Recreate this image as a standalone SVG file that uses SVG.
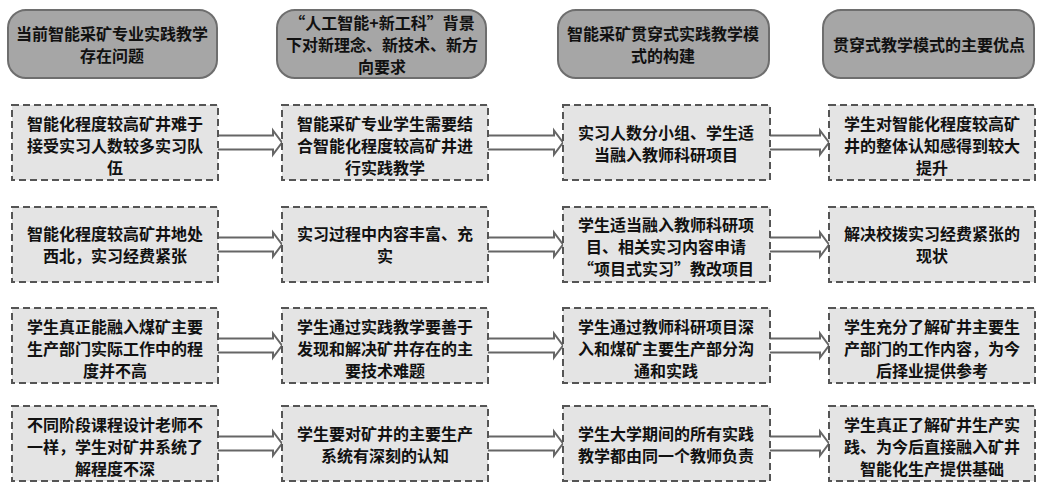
<svg xmlns="http://www.w3.org/2000/svg" width="1054" height="484" viewBox="0 0 1054 484">
<style>
.hd{fill:#a6a6a6;stroke:#6e6e6e;stroke-width:2}
.bx{fill:#e4e4e4;stroke:#555;stroke-width:2;stroke-dasharray:7 4}
.t{font-family:"Noto Sans CJK SC","Noto Sans",sans-serif;font-weight:bold;font-size:16px;fill:#111;text-anchor:middle;dominant-baseline:central}
.ar{fill:#fff;stroke:#666;stroke-width:2;stroke-linejoin:miter}
</style>
<rect width="1054" height="484" fill="#fff"/>
<g id="connectors">
<path class="ar" d="M218,135.5H273V130.5L282,142.5L273,154.5V149.5H218"/>
<path class="ar" d="M488,135.5H554V130.5L563,142.5L554,154.5V149.5H488"/>
<path class="ar" d="M770,135.5H820V130.5L829,142.5L820,154.5V149.5H770"/>
<path class="ar" d="M218,237.5H273V232.5L282,244.5L273,256.5V251.5H218"/>
<path class="ar" d="M488,237.5H554V232.5L563,244.5L554,256.5V251.5H488"/>
<path class="ar" d="M770,237.5H820V232.5L829,244.5L820,256.5V251.5H770"/>
<path class="ar" d="M218,338.5H273V333.5L282,345.5L273,357.5V352.5H218"/>
<path class="ar" d="M488,338.5H554V333.5L563,345.5L554,357.5V352.5H488"/>
<path class="ar" d="M770,338.5H820V333.5L829,345.5L820,357.5V352.5H770"/>
<path class="ar" d="M218,436.5H273V431.5L282,443.5L273,455.5V450.5H218"/>
<path class="ar" d="M488,436.5H554V431.5L563,443.5L554,455.5V450.5H488"/>
<path class="ar" d="M770,436.5H820V431.5L829,443.5L820,455.5V450.5H770"/>
</g>
<g id="h1"><rect class="hd" x="8" y="10" width="209" height="68" rx="18"/><text class="t" x="112" y="33">当前智能采矿专业实践教学</text><text class="t" x="112" y="55">存在问题</text></g>
<g id="h2"><rect class="hd" x="277" y="10" width="209" height="68" rx="18"/><text class="t" x="382" y="22">“人工智能+新工科”背景</text><text class="t" x="382" y="44">下对新理念、新技术、新方</text><text class="t" x="382" y="66">向要求</text></g>
<g id="h3"><rect class="hd" x="558" y="10" width="211" height="68" rx="18"/><text class="t" x="663" y="33">智能采矿贯穿式实践教学模</text><text class="t" x="663" y="55">式的构建</text></g>
<g id="h4"><rect class="hd" x="823" y="10" width="211" height="68" rx="18"/><text class="t" x="929" y="44">贯穿式教学模式的主要优点</text></g>

<g id="r1c1"><rect class="bx" x="12" y="105" width="206" height="75"/><text class="t" x="115" y="123">智能化程度较高矿井难于</text><text class="t" x="115" y="145">接受实习人数较多实习队</text><text class="t" x="115" y="167">伍</text></g>
<g id="r1c2"><rect class="bx" x="282" y="105" width="206" height="75"/><text class="t" x="385" y="123">智能采矿专业学生需要结</text><text class="t" x="385" y="145">合智能化程度较高矿井进</text><text class="t" x="385" y="167">行实践教学</text></g>
<g id="r1c3"><rect class="bx" x="563" y="105" width="207" height="75"/><text class="t" x="666" y="132">实习人数分小组、学生适</text><text class="t" x="666" y="154">当融入教师科研项目</text></g>
<g id="r1c4"><rect class="bx" x="829" y="105" width="206" height="75"/><text class="t" x="932" y="123">学生对智能化程度较高矿</text><text class="t" x="932" y="145">井的整体认知感得到较大</text><text class="t" x="932" y="167">提升</text></g>

<g id="r2c1"><rect class="bx" x="12" y="207" width="206" height="75"/><text class="t" x="115" y="233">智能化程度较高矿井地处</text><text class="t" x="115" y="255">西北，实习经费紧张</text></g>
<g id="r2c2"><rect class="bx" x="282" y="207" width="206" height="75"/><text class="t" x="385" y="233">实习过程中内容丰富、充</text><text class="t" x="385" y="255">实</text></g>
<g id="r2c3"><rect class="bx" x="563" y="207" width="207" height="75"/><text class="t" x="666" y="224">学生适当融入教师科研项</text><text class="t" x="666" y="246">目、相关实习内容申请</text><text class="t" x="666" y="268">“项目式实习”教改项目</text></g>
<g id="r2c4"><rect class="bx" x="829" y="207" width="206" height="75"/><text class="t" x="932" y="233">解决校拨实习经费紧张的</text><text class="t" x="932" y="255">现状</text></g>

<g id="r3c1"><rect class="bx" x="12" y="308" width="206" height="75"/><text class="t" x="115" y="326">学生真正能融入煤矿主要</text><text class="t" x="115" y="348">生产部门实际工作中的程</text><text class="t" x="115" y="370">度并不高</text></g>
<g id="r3c2"><rect class="bx" x="282" y="308" width="206" height="75"/><text class="t" x="385" y="326">学生通过实践教学要善于</text><text class="t" x="385" y="348">发现和解决矿井存在的主</text><text class="t" x="385" y="370">要技术难题</text></g>
<g id="r3c3"><rect class="bx" x="563" y="308" width="207" height="75"/><text class="t" x="666" y="326">学生通过教师科研项目深</text><text class="t" x="666" y="348">入和煤矿主要生产部分沟</text><text class="t" x="666" y="370">通和实践</text></g>
<g id="r3c4"><rect class="bx" x="829" y="308" width="206" height="75"/><text class="t" x="932" y="326">学生充分了解矿井主要生</text><text class="t" x="932" y="348">产部门的工作内容，为今</text><text class="t" x="932" y="370">后择业提供参考</text></g>

<g id="r4c1"><rect class="bx" x="12" y="406" width="206" height="75"/><text class="t" x="115" y="424">不同阶段课程设计老师不</text><text class="t" x="115" y="446">一样，学生对矿井系统了</text><text class="t" x="115" y="468">解程度不深</text></g>
<g id="r4c2"><rect class="bx" x="282" y="406" width="206" height="75"/><text class="t" x="385" y="433">学生要对矿井的主要生产</text><text class="t" x="385" y="455">系统有深刻的认知</text></g>
<g id="r4c3"><rect class="bx" x="563" y="406" width="207" height="75"/><text class="t" x="666" y="433">学生大学期间的所有实践</text><text class="t" x="666" y="455">教学都由同一个教师负责</text></g>
<g id="r4c4"><rect class="bx" x="829" y="406" width="206" height="75"/><text class="t" x="932" y="424">学生真正了解矿井生产实</text><text class="t" x="932" y="446">践、为今后直接融入矿井</text><text class="t" x="932" y="468">智能化生产提供基础</text></g>
</svg>
